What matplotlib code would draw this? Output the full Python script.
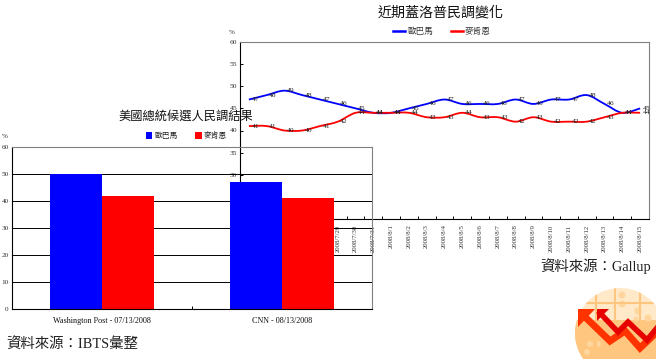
import matplotlib
matplotlib.use('Agg')
import matplotlib.pyplot as plt
from matplotlib.path import Path
from matplotlib.patches import PathPatch, Rectangle, Circle

plt.rcParams['font.family'] = ['Liberation Serif', 'Noto Sans CJK TC', 'DejaVu Sans']

# line chart data
dates = ['2008/7/24', '2008/7/25', '2008/7/26', '2008/7/27', '2008/7/28', '2008/7/29',
         '2008/7/30', '2008/7/31', '2008/8/1', '2008/8/2', '2008/8/3', '2008/8/4',
         '2008/8/5', '2008/8/6', '2008/8/7', '2008/8/8', '2008/8/9', '2008/8/10',
         '2008/8/11', '2008/8/12', '2008/8/13', '2008/8/14', '2008/8/15']
obama = [47, 48, 49, 48, 47, 46, 45, 44, 44, 45, 46, 47, 46, 46, 46, 47, 46, 47, 47, 48, 46, 44, 45]
mccain = [41, 41, 40, 40, 41, 42, 44, 44, 44, 44, 43, 43, 44, 43, 43, 42, 43, 42, 42, 42, 43, 44, 44]

# bar chart data
polls = ['Washington Post - 07/13/2008', 'CNN - 08/13/2008']
obama_poll = [50, 47]
mccain_poll = [42, 41]

W, H = 656, 359
BLUE = '#0000ff'
RED = '#ff0000'
GRAY = '#808080'
TICK = '#333333'


def box(left, top, right, bottom):
    return [left / W, 1 - bottom / H, (right - left) / W, (bottom - top) / H]


def smooth(xs, ys, k=1 / 6):
    # same kind of smoothed line a spreadsheet draws through the points
    verts = [(xs[0], ys[0])]
    codes = [Path.MOVETO]
    n = len(xs)
    for i in range(n - 1):
        a = max(i - 1, 0)
        b = min(i + 2, n - 1)
        verts.append((xs[i] + (xs[i + 1] - xs[a]) * k, ys[i] + (ys[i + 1] - ys[a]) * k))
        verts.append((xs[i + 1] - (xs[b] - xs[i]) * k, ys[i + 1] - (ys[b] - ys[i]) * k))
        verts.append((xs[i + 1], ys[i + 1]))
        codes += [Path.CURVE4] * 3
    return Path(verts, codes)


fig = plt.figure(figsize=(W / 100, H / 100), dpi=100)

# background layer, logo
bg = fig.add_axes([0, 0, 1, 1], zorder=0)
bg.set_xlim(0, W)
bg.set_ylim(H, 0)
bg.axis('off')
disc = Circle((620, 333), 45, fc='#ffe9c8', ec='none')
bg.add_patch(disc)
low = Rectangle((570, 320), 90, 45, fc='#ffc680', ec='none')
low.set_clip_path(disc)
bg.add_patch(low)
for gx in [596, 615, 640]:
    v = bg.plot([gx, gx], [285, 359], color='#ffc680', lw=1.5)[0]
    v.set_clip_path(disc)
for gy in [303, 339]:
    v = bg.plot([570, 656], [gy, gy], color='#ffc680', lw=1.5)[0]
    v.set_clip_path(disc)
for cx, cy, r in [(622, 295, 3.5), (622, 304, 3.5), (638, 311, 3.5), (648, 318, 3.5), (636, 319, 2.5),
                  (590, 344, 3), (598, 344, 3), (587, 352, 3)]:
    bg.add_patch(Circle((cx, cy), r, fc='#ffd79e', ec='none'))
bg.plot([583, 610, 625, 640, 657], [315, 341, 331, 348, 332], color='#ff3300', lw=5, solid_joinstyle='miter')
bg.plot([600, 618, 628, 647, 657], [313, 332, 322, 340, 328], color='#e60000', lw=4, solid_joinstyle='miter')
bg.fill([578, 595, 578], [309, 309, 327], color='#ff3300', lw=0)
bg.fill([596, 609, 596], [309, 309, 322], color='#e60000', lw=0)

# line chart
ax = fig.add_axes(box(240, 42, 649, 219), zorder=1)
ax.set_xlim(-0.5, len(dates) - 0.5)
ax.set_ylim(20, 60)
xs = list(range(len(dates)))
for vals, col in [(obama, BLUE), (mccain, RED)]:
    ax.add_patch(PathPatch(smooth(xs, vals), fc='none', ec=col, lw=1.3))
    for x, v in zip(xs, vals):
        ax.annotate(str(v), (x, v), xytext=(4.5, 0), textcoords='offset points', fontsize=5.4,
                    color='#222222', ha='center', va='center', annotation_clip=False)
ax.set_xticks([x + 0.5 for x in xs], minor=True)
ax.set_xticks(xs)
ax.set_xticklabels(dates, rotation=90, fontsize=4.9, color=TICK)
ax.set_yticks(range(20, 61, 5))
ax.tick_params(axis='x', which='major', length=0, pad=4)
ax.tick_params(axis='x', which='minor', length=2.2, width=0.7, direction='in')
ax.tick_params(axis='y', length=2, width=0.7, direction='in', labelsize=5.4, labelcolor=TICK, pad=2)
ax.spines['left'].set_color('black')
ax.spines['bottom'].set_color('black')
ax.spines['top'].set_color(GRAY)
ax.spines['right'].set_color(GRAY)

# bar chart sits on top with no background
ax2 = fig.add_axes(box(12, 147, 372, 309), zorder=2)
ax2.patch.set_visible(False)
ax2.set_xlim(-0.5, 1.5)
ax2.set_ylim(0, 60)
ax2.set_axisbelow(True)
ax2.yaxis.grid(True, color='black', lw=0.7)
w = 0.29
for i in range(len(polls)):
    ax2.bar(i - w / 2, obama_poll[i], w, color=BLUE)
    ax2.bar(i + w / 2, mccain_poll[i], w, color=RED)
ax2.set_xticks(range(len(polls)))
ax2.set_xticklabels(polls, fontsize=5.9, color='#111111')
ax2.set_xticks([0.5, 1.5], minor=True)
ax2.set_yticks(range(0, 61, 10))
ax2.tick_params(axis='x', which='major', length=0, pad=6)
ax2.tick_params(axis='x', which='minor', length=2.2, width=0.7, direction='in')
ax2.tick_params(axis='y', length=0, labelsize=5.2, labelcolor=TICK, pad=2.5)
ax2.spines['top'].set_color(GRAY)
ax2.spines['right'].set_color(GRAY)

# titles, legends, source notes in pixel positions
ov = fig.add_axes([0, 0, 1, 1], zorder=3)
ov.set_xlim(0, W)
ov.set_ylim(H, 0)
ov.axis('off')
ov.text(440.5, 13, '近期蓋洛普民調變化', fontsize=10.1, ha='center', va='center', color='#111111')
ov.text(186, 117, '美國總統候選人民調結果', fontsize=8.8, ha='center', va='center', color='#111111')
ov.plot([393, 405], [31, 31], color=BLUE, lw=1.8)
ov.text(420.5, 32, '歐巴馬', fontsize=6.2, ha='center', va='center', color='#333333')
ov.plot([451, 463], [31, 31], color=RED, lw=1.8)
ov.text(478, 32, '麥肯恩', fontsize=6.2, ha='center', va='center', color='#333333')
ov.add_patch(Rectangle((146, 132), 6, 7, fc=BLUE, ec='none'))
ov.text(166, 136, '歐巴馬', fontsize=5.6, ha='center', va='center', color='#222222')
ov.add_patch(Rectangle((195, 132), 7, 7, fc=RED, ec='none'))
ov.text(215.5, 136, '麥肯恩', fontsize=5.6, ha='center', va='center', color='#222222')
ov.text(232, 33, '%', fontsize=5, ha='center', va='center', color=TICK)
ov.text(5, 136, '%', fontsize=5, ha='center', va='center', color=TICK)
ov.text(595.5, 266, '資料來源：Gallup', fontsize=10.4, ha='center', va='center', color='#222222')
ov.text(72.5, 345, '資料來源：IBTS彙整', fontsize=10.4, ha='center', va='center', color='#222222')

fig.savefig('out.png', dpi=100)
